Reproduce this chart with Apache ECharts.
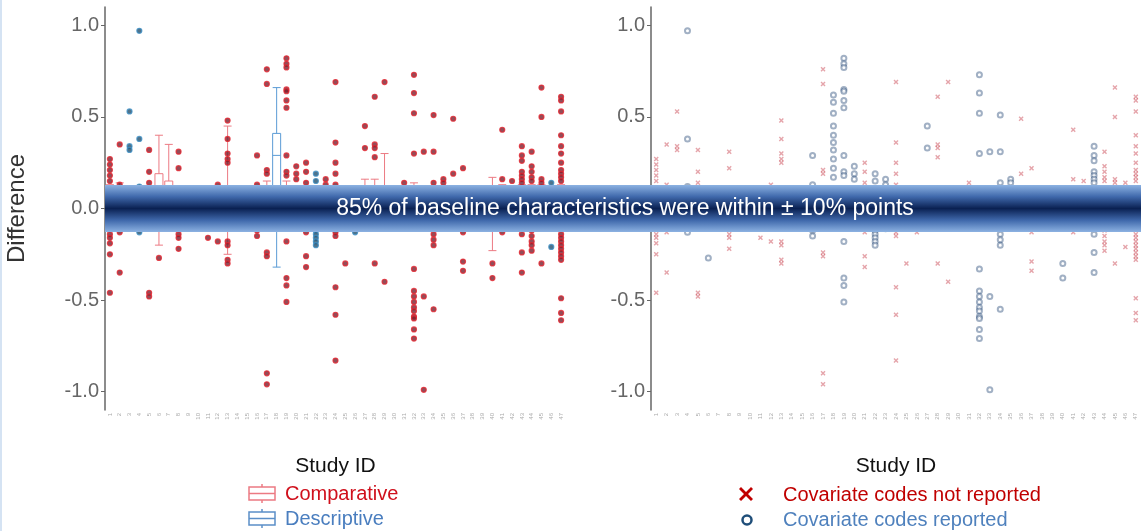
<!DOCTYPE html>
<html>
<head>
<meta charset="utf-8">
<script src="https://cdn.jsdelivr.net/npm/echarts@6/dist/echarts.min.js"></script>
<style>
  html, body { margin: 0; padding: 0; background: #fff; }
  #chart { width: 1141px; height: 531px; }
</style>
</head>
<body>
<div id="chart"></div>
<script>
// study ids on the x axis (47 studies)
const studyIds = ['1', '2', '3', '4', '5', '6', '7', '8', '9', '10', '11', '12', '13', '14', '15', '16',
  '17', '18', '19', '20', '21', '22', '23', '24', '25', '26', '27', '28', '29', '30', '31', '32',
  '33', '34', '35', '36', '37', '38', '39', '40', '41', '42', '43', '44', '45', '46', '47'];
// C = comparative, D = descriptive
const studyType = ['C', 'C', 'D', 'D', 'C', 'C', 'C', 'C', 'C', 'C', 'C', 'C', 'C', 'C', 'C', 'C',
  'C', 'D', 'C', 'C', 'C', 'D', 'C', 'C', 'C', 'D', 'C', 'C', 'C', 'C', 'C', 'C',
  'C', 'C', 'C', 'C', 'C', 'C', 'C', 'C', 'C', 'C', 'C', 'C', 'C', 'D', 'C'];
// 1 = covariate codes reported
const covReported = [0, 0, 0, 1, 0, 1, 1, 0, 0, 0, 0, 0, 0, 0, 0, 1,
  0, 1, 1, 1, 0, 1, 1, 0, 0, 0, 1, 0, 0, 0, 0, 1,
  1, 1, 1, 0, 0, 1, 0, 1, 0, 0, 1, 0, 0, 0, 0];
// [min, Q1, median, Q3, max]
const boxStats = [
  [-0.12, -0.04, 0.02, 0.08, 0.13], [-0.1, -0.03, 0.0, 0.05, 0.14], [-0.08, 0.0, 0.05, 0.1, 0.12], [-0.1, -0.02, 0.02, 0.06, 0.1],
  [-0.1, -0.03, 0.02, 0.07, 0.12], [-0.2, 0.02, 0.08, 0.19, 0.4], [-0.1, 0.0, 0.05, 0.15, 0.35], [-0.12, -0.04, 0.0, 0.06, 0.12],
  [-0.05, -0.02, 0.0, 0.02, 0.05], [-0.06, -0.02, 0.0, 0.02, 0.06], [-0.12, -0.05, -0.01, 0.03, 0.09], [-0.12, -0.04, 0.0, 0.05, 0.12],
  [-0.25, -0.05, 0.02, 0.1, 0.45], [-0.06, -0.02, 0.0, 0.03, 0.07], [-0.07, -0.02, 0.0, 0.03, 0.07], [-0.1, -0.03, 0.01, 0.05, 0.12],
  [-0.12, -0.04, 0.01, 0.07, 0.15], [-0.32, 0.08, 0.29, 0.41, 0.66], [-0.12, -0.04, 0.02, 0.08, 0.15], [-0.08, -0.02, 0.02, 0.06, 0.12],
  [-0.1, -0.03, 0.02, 0.06, 0.12], [-0.1, -0.04, 0.0, 0.05, 0.12], [-0.08, -0.03, 0.0, 0.04, 0.1], [-0.1, -0.03, 0.02, 0.06, 0.12],
  [-0.08, -0.03, 0.0, 0.03, 0.08], [-0.08, -0.03, 0.0, 0.03, 0.08], [-0.1, -0.03, 0.02, 0.06, 0.16], [-0.12, -0.03, 0.02, 0.07, 0.16],
  [-0.1, -0.02, 0.03, 0.1, 0.3], [-0.05, -0.02, 0.0, 0.02, 0.05], [-0.08, -0.02, 0.02, 0.05, 0.12], [-0.12, -0.05, 0.0, 0.06, 0.14],
  [-0.1, -0.03, 0.01, 0.05, 0.12], [-0.1, -0.03, 0.02, 0.06, 0.12], [-0.08, -0.02, 0.02, 0.05, 0.12], [-0.08, -0.02, 0.02, 0.06, 0.12],
  [-0.1, -0.03, 0.02, 0.06, 0.12], [-0.06, -0.02, 0.0, 0.03, 0.06], [-0.06, -0.02, 0.0, 0.03, 0.09], [-0.23, -0.05, 0.0, 0.06, 0.17],
  [-0.1, -0.03, 0.02, 0.06, 0.13], [-0.1, -0.03, 0.02, 0.06, 0.12], [-0.1, -0.03, 0.02, 0.07, 0.13], [-0.1, -0.04, 0.02, 0.07, 0.13],
  [-0.12, -0.04, 0.02, 0.07, 0.13], [-0.1, -0.04, 0.0, 0.04, 0.12], [-0.12, -0.05, 0.0, 0.06, 0.13]
];
// points outside the boxes, per study
const pointValues = [
  [0.27, 0.24, 0.21, 0.18, 0.15, -0.14, -0.16, -0.19, -0.25, -0.46],
  [0.35, 0.13, -0.13, -0.35],
  [0.53, 0.34, 0.32],
  [0.97, 0.38, 0.12, -0.13],
  [0.32, 0.2, 0.14, -0.46, -0.48],
  [-0.27],
  [],
  [0.31, 0.22, -0.14, -0.16, -0.22],
  [],
  [],
  [-0.16],
  [0.13, -0.18],
  [0.48, 0.38, 0.3, 0.27, 0.25, -0.18, -0.2, -0.28, -0.3],
  [],
  [],
  [0.29, 0.13, -0.12, -0.15],
  [0.76, 0.68, 0.21, 0.19, -0.24, -0.26, -0.9, -0.96],
  [],
  [0.82, 0.79, 0.77, 0.65, 0.64, 0.59, 0.55, 0.29, 0.2, 0.18, -0.18, -0.38, -0.42, -0.51],
  [0.23, 0.19, 0.16],
  [0.25, 0.2, 0.14, -0.13, -0.26, -0.32],
  [0.19, 0.15, -0.12, -0.14, -0.16, -0.18, -0.2],
  [0.16, 0.13, -0.11],
  [0.69, 0.36, 0.25, 0.19, 0.13, -0.11, -0.13, -0.15, -0.43, -0.58, -0.83],
  [-0.3],
  [-0.11, -0.13],
  [0.45, 0.33],
  [0.61, 0.35, 0.33, 0.28, -0.3],
  [0.69, -0.4],
  [],
  [0.14, -0.11],
  [0.73, 0.63, 0.52, 0.3, -0.33, -0.45, -0.48, -0.51, -0.54, -0.56, -0.59, -0.6, -0.66, -0.71],
  [0.31, -0.48, -0.99],
  [0.51, 0.31, 0.14, -0.11, -0.14, -0.17, -0.2, -0.55],
  [0.16, 0.14],
  [0.49, 0.19],
  [0.22, -0.13, -0.29, -0.34],
  [],
  [],
  [-0.3, -0.38],
  [0.43, 0.16, -0.13],
  [0.15],
  [0.34, 0.29, 0.26, 0.2, 0.18, 0.16, 0.14, -0.11, -0.14, -0.24, -0.35],
  [0.31, 0.23, 0.2, 0.17, 0.15, -0.12, -0.15, -0.18, -0.2, -0.23],
  [0.66, 0.5, 0.16, 0.14, -0.3],
  [0.14, -0.21],
  [0.61, 0.59, 0.53, 0.4, 0.34, 0.3, 0.25, 0.21, 0.19, 0.17, 0.15, -0.14, -0.16, -0.18, -0.2, -0.22, -0.24, -0.26, -0.28, -0.49, -0.57, -0.61]
];
// points inside the box of study 18, only drawn on the right panel
const innerValues18 = [0.62, 0.58, 0.52, 0.45, 0.4, 0.36, 0.32, 0.27, 0.22, 0.17];
const yTicks = [-1, -0.5, 0, 0.5, 1];

const chart = echarts.init(document.getElementById('chart'));

var leftComp = [], leftDesc = [], rightNot = [], rightRep = [];
pointValues.forEach(function (vals, i) {
  vals.forEach(function (v) {
    (studyType[i] === 'D' ? leftDesc : leftComp).push([i, v]);
    (covReported[i] ? rightRep : rightNot).push([i, v]);
  });
});
innerValues18.forEach(function (v) { (covReported[17] ? rightRep : rightNot).push([17, v]); });

var boxData = boxStats.map(function (b, i) {
  return {
    value: b,
    itemStyle: { color: '#fff', borderColor: studyType[i] === 'D' ? '#5b9bd5' : '#ec7a83', borderWidth: 1 }
  };
});

var axisGrey = '#666';
function makeY(idx, withName) {
  return {
    type: 'value', gridIndex: idx, min: -1.1, max: 1.1,
    name: withName ? 'Difference' : '',
    nameLocation: 'middle', nameGap: 76, nameRotate: 90,
    nameTextStyle: { fontSize: 24, color: '#333', fontFamily: 'Liberation Sans' },
    axisLine: { show: true, lineStyle: { color: axisGrey, width: 1.5 } },
    axisTick: { show: true, length: 4, customValues: yTicks, lineStyle: { color: axisGrey } },
    axisLabel: {
      customValues: yTicks, fontSize: 20, color: '#666', margin: 6, fontFamily: 'Liberation Sans',
      formatter: function (v) { return v.toFixed(1); }
    },
    splitLine: { show: false }
  };
}
function makeX(idx) {
  return {
    type: 'category', gridIndex: idx, data: studyIds,
    name: 'Study ID', nameLocation: 'middle', nameGap: 46,
    nameTextStyle: { fontSize: 21, color: '#111', fontFamily: 'Liberation Sans' },
    axisLine: { lineStyle: { color: '#777', width: 1.5 } },
    axisTick: { show: true, alignWithLabel: true, length: 3, lineStyle: { color: '#999' } },
    axisLabel: { interval: 0, rotate: 90, fontSize: 6, color: '#aaa', margin: 3 },
    splitLine: { show: false }
  };
}

var xPath = 'path://M2,0L5,3L8,0L10,2L7,5L10,8L8,10L5,7L2,10L0,8L3,5L0,2Z';
var bandFill = new echarts.graphic.LinearGradient(0, 0, 0, 1, [
  { offset: 0, color: '#8cb2e2' },
  { offset: 0.25, color: '#3f68ab' },
  { offset: 0.5, color: '#0a2152' },
  { offset: 0.75, color: '#3f68ab' },
  { offset: 1, color: '#8cb2e2' }
]);
var legendFont = '20px "Liberation Sans"';

function boxKey(x, y, c) {
  return {
    type: 'group', x: x, y: y, z: 100,
    children: [
      { type: 'line', shape: { x1: 14, y1: 0, x2: 14, y2: 3 }, style: { stroke: c, lineWidth: 1.5 } },
      { type: 'rect', shape: { x: 1, y: 3, width: 26, height: 13 }, style: { fill: '#fff', stroke: c, lineWidth: 1.5 } },
      { type: 'line', shape: { x1: 1, y1: 9.5, x2: 27, y2: 9.5 }, style: { stroke: c, lineWidth: 1.5 } },
      { type: 'line', shape: { x1: 14, y1: 16, x2: 14, y2: 19 }, style: { stroke: c, lineWidth: 1.5 } }
    ]
  };
}

var option = {
  animation: false,
  backgroundColor: '#fff',
  grid: [
    { left: 105, top: 7, width: 461, height: 403 },
    { left: 651, top: 7, width: 490, height: 403 }
  ],
  xAxis: [makeX(0), makeX(1)],
  yAxis: [makeY(0, true), makeY(1, false)],
  series: [
    {
      type: 'boxplot', xAxisIndex: 0, yAxisIndex: 0,
      boxWidth: [8, 8], data: boxData
    },
    {
      type: 'scatter', xAxisIndex: 0, yAxisIndex: 0, symbolSize: 5, data: leftComp,
      itemStyle: { color: '#7a1f2e', borderColor: '#e3262f', borderWidth: 1.2 }
    },
    {
      type: 'scatter', xAxisIndex: 0, yAxisIndex: 0, symbolSize: 5, data: leftDesc,
      itemStyle: { color: '#23506e', borderColor: '#3d8fc4', borderWidth: 1.2 }
    },
    {
      type: 'scatter', xAxisIndex: 1, yAxisIndex: 1, symbol: xPath, symbolSize: 5, data: rightNot,
      itemStyle: { color: 'rgba(190,30,45,0.5)' }
    },
    {
      type: 'scatter', xAxisIndex: 1, yAxisIndex: 1, symbol: 'emptyCircle', symbolSize: 5, data: rightRep,
      itemStyle: { color: 'rgba(40,75,120,0.55)', borderColor: 'rgba(40,75,120,0.55)', borderWidth: 1.5 }
    }
  ],
  graphic: [
    { type: 'rect', shape: { x: 0, y: 0, width: 2, height: 531 }, style: { fill: '#d5e3f3' }, z: 100 },
    { type: 'rect', shape: { x: 105, y: 185, width: 1036, height: 47 }, style: { fill: bandFill }, z: 100 },
    {
      type: 'text', x: 625, y: 209, z: 101,
      style: {
        text: '85% of baseline characteristics were within \u00b1 10% points',
        fill: '#fff', font: '23px "Liberation Sans"', align: 'center', verticalAlign: 'middle'
      }
    },
    boxKey(248, 484, '#ec7a83'),
    boxKey(248, 509, '#5b8fc8'),
    { type: 'text', x: 285, y: 494, z: 100, style: { text: 'Comparative', fill: '#d0101c', font: legendFont, verticalAlign: 'middle' } },
    { type: 'text', x: 285, y: 519, z: 100, style: { text: 'Descriptive', fill: '#4a7ebf', font: legendFont, verticalAlign: 'middle' } },
    {
      type: 'polygon', z: 100,
      shape: { points: [[741, 487], [746, 492], [751, 487], [753, 489], [748, 494], [753, 499], [751, 501], [746, 496], [741, 501], [739, 499], [744, 494], [739, 489]] },
      style: { fill: '#c00000' }
    },
    { type: 'circle', z: 100, shape: { cx: 747, cy: 520, r: 4.5 }, style: { fill: 'none', stroke: '#1f4e79', lineWidth: 2.5 } },
    { type: 'text', x: 783, y: 495, z: 100, style: { text: 'Covariate codes not reported', fill: '#c00000', font: legendFont, verticalAlign: 'middle' } },
    { type: 'text', x: 783, y: 520, z: 100, style: { text: 'Covariate codes reported', fill: '#4f81bd', font: legendFont, verticalAlign: 'middle' } }
  ]
};

chart.setOption(option);
</script>
</body>
</html>
